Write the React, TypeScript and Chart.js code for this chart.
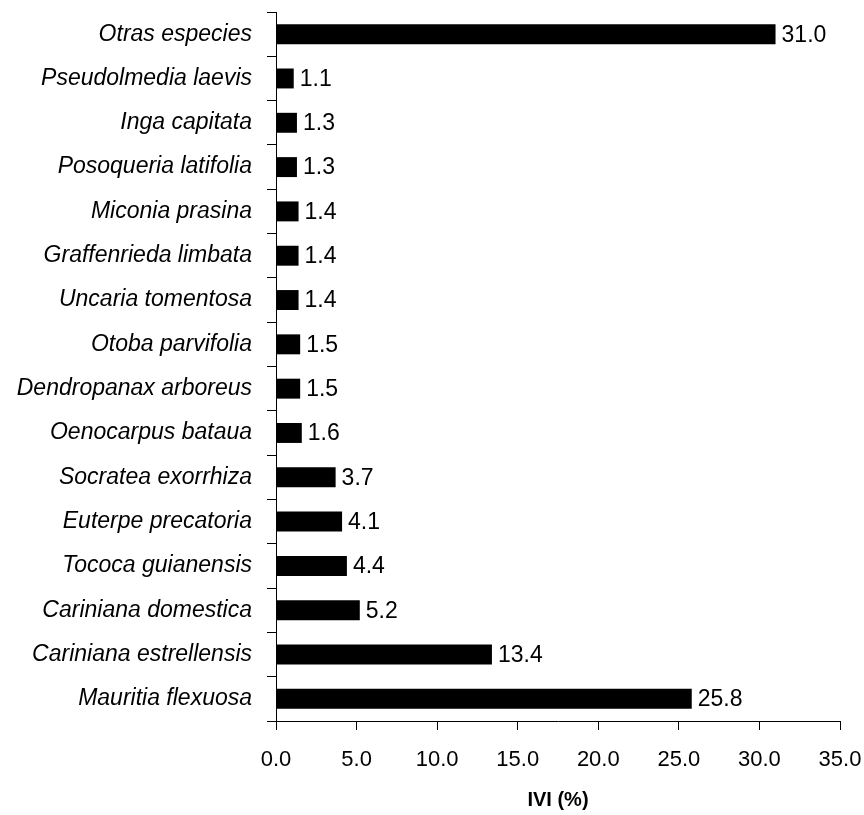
import React, { useEffect, useRef } from "react";
import { Chart, registerables } from "chart.js";

Chart.register(...registerables);

const species = [
  "Otras especies",
  "Pseudolmedia laevis",
  "Inga capitata",
  "Posoqueria latifolia",
  "Miconia prasina",
  "Graffenrieda limbata",
  "Uncaria tomentosa",
  "Otoba parvifolia",
  "Dendropanax arboreus",
  "Oenocarpus bataua",
  "Socratea exorrhiza",
  "Euterpe precatoria",
  "Tococa guianensis",
  "Cariniana domestica",
  "Cariniana estrellensis",
  "Mauritia flexuosa",
];

const ivi = [31.0, 1.1, 1.3, 1.3, 1.4, 1.4, 1.4, 1.5, 1.5, 1.6, 3.7, 4.1, 4.4, 5.2, 13.4, 25.8];

const xTitle = "IVI (%)";

const FONT = '"Liberation Sans", Arial, Helvetica, sans-serif';

const valueLabels = {
  id: "valueLabels",
  afterDatasetsDraw(chart: any) {
    const ctx = chart.ctx;
    const meta = chart.getDatasetMeta(0);
    ctx.save();
    ctx.font = `23px ${FONT}`;
    ctx.fillStyle = "#000";
    ctx.textBaseline = "middle";
    ctx.textAlign = "left";
    meta.data.forEach((bar: any, i: number) => {
      const v = chart.data.datasets[0].data[i] as number;
      ctx.fillText(v.toFixed(1), bar.x + 6, bar.y + 1);
    });
    ctx.restore();
  },
};

export default function App() {
  const ref = useRef<HTMLCanvasElement>(null);
  useEffect(() => {
    if (!ref.current) return;
    const chart = new Chart(ref.current, {
      type: "bar",
      data: {
        labels: species,
        datasets: [
          {
            data: ivi,
            backgroundColor: "#000",
            borderWidth: 0,
            barPercentage: 0.45,
            categoryPercentage: 1,
          },
        ],
      },
      options: {
        indexAxis: "y",
        animation: false,
        responsive: true,
        maintainAspectRatio: false,
        layout: { padding: { top: 12, right: 24, left: 0, bottom: 0 } },
        plugins: {
          legend: { display: false },
          tooltip: { enabled: false },
        },
        scales: {
          x: {
            min: 0,
            max: 35,
            border: { display: true, color: "#000", width: 1 },
            grid: {
              display: true,
              drawOnChartArea: false,
              drawTicks: true,
              tickLength: 9,
              color: "#000",
            },
            ticks: {
              stepSize: 5,
              color: "#000",
              padding: 17,
              maxRotation: 0,
              font: { family: FONT, size: 22 },
              callback: (v: any) => Number(v).toFixed(1),
            },
            title: {
              display: true,
              text: xTitle,
              color: "#000",
              font: { family: FONT, size: 20, weight: "bold" },
              padding: { top: 0, bottom: 3 },
            },
            afterFit: (s: any) => {
              s.height = 94;
              s.paddingLeft = 0;
              s.paddingRight = 0;
            },
          },
          y: {
            border: { display: true, color: "#000", width: 1 },
            grid: {
              display: true,
              offset: true,
              drawOnChartArea: false,
              drawTicks: true,
              tickLength: 9,
              color: "#000",
            },
            ticks: {
              color: "#000",
              padding: 15,
              font: { family: FONT, size: 23, style: "italic" },
            },
            afterFit: (s: any) => {
              s.width = 276;
              s.paddingTop = 0;
              s.paddingBottom = 0;
            },
          },
        },
      },
      plugins: [valueLabels],
    });
    return () => chart.destroy();
  }, []);
  return (
    <div style={{ position: "fixed", left: 0, top: 0, width: 864, height: 815, background: "#fff" }}>
      <canvas ref={ref} />
    </div>
  );
}
